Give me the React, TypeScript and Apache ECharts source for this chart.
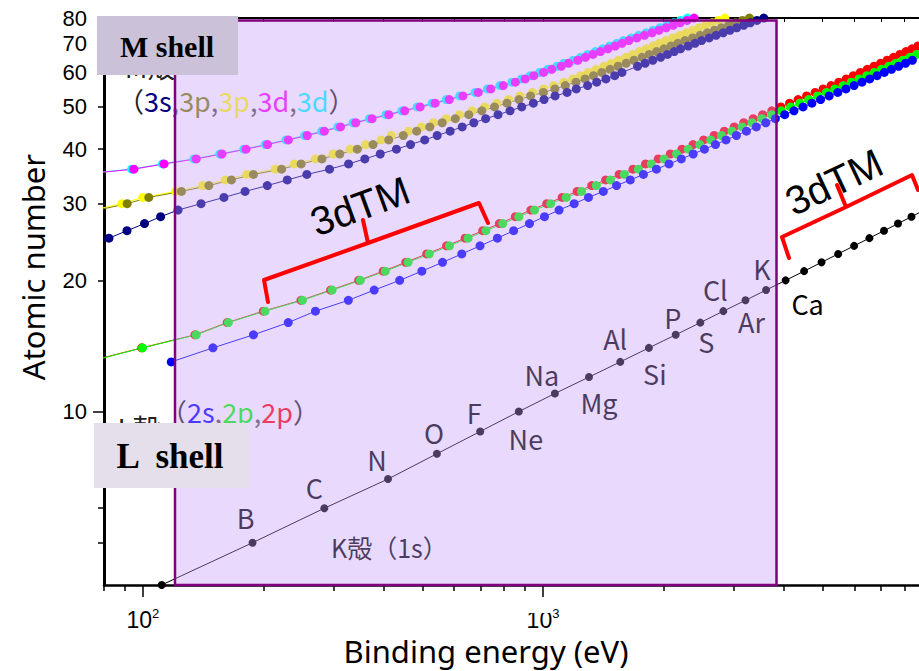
import React, { useEffect, useRef } from "react";
import * as echarts from "echarts";

// ---- Data (binding energies in eV) ----
const kZStart = 4;
const kEnergy = [111.5, 188, 284.2, 409.9, 543.1, 696.7, 870.2, 1070.8, 1303, 1559.6, 1839, 2145.5, 2472, 2822.4, 3205.9, 3608.4, 4038.5, 4492, 4966, 5465, 5989, 6539, 7112, 7709, 8333, 8979];
const kElements = ["", "B", "C", "N", "O", "F", "Ne", "Na", "Mg", "Al", "Si", "P", "S", "Cl", "Ar", "K", "Ca"];
const kLabelOffsets = [[0, 0], [-7, -25], [-10, -21], [-11, -20], [-3, -21], [-6, -19], [7, 27], [-13, -19], [10, 25], [-5, -23], [6, 26], [-3, -17], [6, 19], [-8, -22], [6, 21], [-4, -22], [22, 23]];

const l1ZStart = 13;
const l1Energy = [117.8, 149.7, 189, 230.9, 270, 326.3, 378.6, 438.4, 498.0, 560.9, 626.7, 696.0, 769.1, 844.6, 925.1, 1008.6, 1096.7, 1196.2, 1299.0, 1414.6, 1527.0, 1652.0, 1782, 1921, 2065, 2216, 2373, 2532, 2698, 2866, 3043, 3224, 3412, 3604, 3806, 4018, 4238, 4465, 4698, 4939, 5188, 5453, 5714, 5989, 6266, 6549, 6835, 7126, 7428, 7737, 8052, 8376, 8708];
const l2ZStart = 13;
const l2Energy = [72.95, 99.82, 136, 163.6, 202, 250.6, 297.3, 349.7, 403.6, 460.2, 519.8, 583.8, 649.9, 719.9, 793.2, 870.0, 952.3, 1044.9, 1143.2, 1248.1, 1359.1, 1474.3, 1596, 1730.9, 1864, 2007, 2156, 2307, 2465, 2625, 2793, 2967, 3146, 3330, 3524, 3727, 3938, 4156, 4380, 4612, 4852, 5107, 5359, 5624, 5891, 6164, 6440, 6722, 7013, 7312, 7617, 7930, 8252, 8581];
const l3ZStart = 13;
const l3Energy = [72.55, 99.42, 135, 162.5, 200, 248.4, 294.6, 346.2, 398.7, 453.8, 512.1, 574.1, 638.7, 706.8, 778.1, 852.7, 932.7, 1021.8, 1116.4, 1217.0, 1323.6, 1433.9, 1550, 1678.4, 1804, 1940, 2080, 2223, 2371, 2520, 2677, 2838, 3004, 3173, 3351, 3538, 3730, 3929, 4132, 4341, 4557, 4786, 5012, 5247, 5483, 5723, 5964, 6208, 6459, 6716, 6977, 7243, 7514, 7790, 8071, 8358, 8648];

const m1ZStart = 24;
const m1Energy = [74.1, 82.3, 91.3, 101.0, 110.8, 122.5, 139.8, 159.5, 180.1, 204.7, 229.6, 257, 292.8, 326.7, 358.7, 392.0, 430.3, 466.6, 506.3, 544, 586.1, 628.1, 671.6, 719.0, 772.0, 827.2, 884.7, 946, 1006, 1072, 1148.7, 1211, 1293, 1362, 1436, 1511, 1575, null, 1723, 1800, 1881, 1968, 2047, 2128, 2207, 2307, 2398, 2491, 2601, 2708, 2820, 2932, 3049, 3174, 3296, 3425, 3562];
const m2ZStart = 29;
const m2Energy = [77.3, 91.4, 103.5, 124.9, 146.2, 166.5, 189, 222.2, 248.7, 280.3, 310.6, 343.5, 376.1, 411.6, 447.6, 483.5, 521.3, 559.9, 603.8, 652.6, 703.2, 756.5, 812.7, 870.8, 931, 1002.1, 1071, 1137, 1209, 1274, 1337, 1403, 1471, 1541, 1614, 1688, 1768, 1842, 1923, 2006, 2090, 2173, 2264, 2365, 2469, 2575, 2682, 2792, 2909, 3027, 3148, 3279];
const m3ZStart = 29;
const m3Energy = [75.1, 88.6, 100.0, 120.8, 141.2, 160.7, 182, 214.4, 239.1, 270.0, 298.8, 329.8, 360.6, 394.0, 417.7, 461.4, 496.5, 532.3, 573.0, 618.4, 665.3, 714.6, 766.4, 820.0, 875, 940.6, 1003, 1063, 1128, 1187, 1242, 1297, 1357, 1420, 1481, 1544, 1611, 1676, 1741, 1812, 1885, 1950, 2024, 2108, 2194, 2281, 2367, 2457, 2551, 2645, 2743, 2847];
const m4ZStart = 35;
const m4Energy = [70, 95.0, 113.0, 136.0, 157.7, 181.1, 205.0, 231.1, 257.6, 284.2, 311.9, 340.5, 374.0, 411.9, 451.4, 493.2, 537.5, 583.4, 630.8, 689.0, 740.5, 795.7, 853, 902.4, 948.3, 1003.3, 1052, 1110.9, 1158.6, 1221.9, 1276.9, 1333, 1392, 1453, 1515, 1576, 1639, 1716, 1793, 1872, 1949, 2031, 2116, 2202, 2291, 2385];
const m5ZStart = 35;
const m5Energy = [69, 93.8, 112, 134.2, 155.8, 178.8, 202.3, 227.9, 253.9, 280.0, 307.2, 335.2, 368.3, 405.2, 443.9, 484.9, 528.2, 573.0, 619.3, 676.4, 726.6, 780.5, 836, 883.8, 928.8, 980.4, 1027, 1083.4, 1127.5, 1189.6, 1241.1, 1292.6, 1351, 1409, 1468, 1528, 1589, 1662, 1735, 1809, 1883, 1960, 2040, 2122, 2206, 2295];

// ---- Axis ticks ----
const xMin = 79.99;
const xMax = 8700;
const yMin = 3.999;
const yMax = 80.01;
const xMajorTicks = [100, 1000];
const xMinorTicks = [80, 90, 200, 300, 400, 500, 600, 700, 800, 900, 2000, 3000, 4000, 5000, 6000, 7000, 8000];
const yLabelValues = [10, 20, 30, 40, 50, 60, 70, 80];
const yMajorTicks = [10];
const yMinorTicks = [5, 6, 7, 8, 9, 20, 30, 40, 50, 60, 70, 80];

const toPairs = (zStart: number, energies: (number | null)[]) =>
  energies
    .map((e, i) => (e == null ? null : [e, zStart + i]))
    .filter((p) => p !== null) as number[][];

const lineSeries = (name: string, data: any[], color: string, size = 9) => ({
  type: "line",
  name,
  data,
  symbol: "circle",
  symbolSize: size,
  showSymbol: true,
  showAllSymbol: true,
  clip: true,
  silent: true,
  lineStyle: { color, width: 1 },
  itemStyle: { color, borderWidth: 0 },
  xAxisIndex: 0,
  yAxisIndex: 0,
});

export default function App() {
  const ref = useRef<HTMLDivElement>(null);
  useEffect(() => {
    if (!ref.current) return;
    const chart = echarts.init(ref.current, null, { renderer: "svg" });

    const kData = kEnergy.map((e, i) => {
      const z = kZStart + i;
      const name = kElements[i];
      if (name) {
        return {
          value: [e, z],
          name,
          label: { show: true, position: "inside", offset: kLabelOffsets[i], formatter: name },
        };
      }
      return { value: [e, z] };
    });

    const kSeries: any = lineSeries("K 1s", kData, "#000", 8);
    kSeries.label = {
      show: false,
      fontSize: 27,
      fontFamily: "Noto Sans CJK JP",
      color: "#000",
    };

    const tickStyle = { color: "#000", width: 1.5 };
    const supRich = {
      b: { fontSize: 23, fontFamily: "Liberation Sans", color: "#000", lineHeight: 26 },
      s: { fontSize: 13, fontFamily: "Liberation Sans", color: "#000", verticalAlign: "top", lineHeight: 12 },
    };

    const F = "Noto Sans CJK JP";
    const mRich = {
      p: { fill: "#222", fontSize: 27, fontFamily: F },
      c: { fill: "#555", fontSize: 27, fontFamily: F },
      a: { fill: "#000080", fontSize: 27, fontFamily: F },
      b: { fill: "#808000", fontSize: 27, fontFamily: F },
      y: { fill: "#FFFF00", fontSize: 27, fontFamily: F },
      m: { fill: "#FF00FF", fontSize: 27, fontFamily: F },
      n: { fill: "#00FFFF", fontSize: 27, fontFamily: F },
      u: { fill: "#0000FF", fontSize: 27, fontFamily: F },
      g: { fill: "#00FF00", fontSize: 27, fontFamily: F },
      r: { fill: "#FF0000", fontSize: 27, fontFamily: F },
    };
    const center = { textAlign: "center", textVerticalAlign: "middle", align: "center", verticalAlign: "middle" };
    const leftMid = { textAlign: "left", textVerticalAlign: "middle", align: "left", verticalAlign: "middle" };

    const option: any = {
      animation: false,
      backgroundColor: "#fff",
      grid: { left: 104, right: 0, top: 18, bottom: 86, containLabel: false },
      xAxis: [
        {
          type: "log",
          logBase: 10,
          min: xMin,
          max: xMax,
          position: "bottom",
          axisLine: { show: true, onZero: false, lineStyle: { color: "#000", width: 2.5 } },
          axisTick: { show: true, customValues: xMajorTicks, length: 12, lineStyle: tickStyle },
          axisLabel: {
            show: true,
            customValues: xMajorTicks,
            margin: 22,
            fontSize: 23,
            fontFamily: "Liberation Sans",
            color: "#000",
            formatter: (v: number) => (v < 500 ? "{b|10}{s|2}" : "{b|10}{s|3}"),
            rich: supRich,
          },
          splitLine: { show: false },
          minorTick: { show: false },
        },
        {
          type: "log",
          logBase: 10,
          min: xMin,
          max: xMax,
          position: "bottom",
          axisLine: { show: false },
          axisTick: { show: true, customValues: xMinorTicks, length: 6, lineStyle: tickStyle },
          axisLabel: { show: false },
          splitLine: { show: false },
        },
        {
          type: "log",
          logBase: 10,
          min: xMin,
          max: xMax,
          position: "top",
          axisLine: { show: true, onZero: false, lineStyle: { color: "#000", width: 2 } },
          axisTick: { show: true, inside: true, customValues: [...xMinorTicks, ...xMajorTicks], length: 4, lineStyle: { color: "#000", width: 1 } },
          axisLabel: { show: false },
          splitLine: { show: false },
        },
      ],
      yAxis: [
        {
          type: "log",
          logBase: 10,
          min: yMin,
          max: yMax,
          position: "left",
          axisLine: { show: true, onZero: false, lineStyle: { color: "#000", width: 3 } },
          axisTick: { show: true, customValues: yMajorTicks, length: 11, lineStyle: tickStyle },
          axisLabel: {
            show: true,
            customValues: yLabelValues,
            margin: 17,
            fontSize: 22,
            fontFamily: "Liberation Sans",
            color: "#000",
          },
          splitLine: { show: false },
        },
        {
          type: "log",
          logBase: 10,
          min: yMin,
          max: yMax,
          position: "left",
          axisLine: { show: false },
          axisTick: { show: true, customValues: yMinorTicks, length: 6, lineStyle: tickStyle },
          axisLabel: { show: false },
          splitLine: { show: false },
        },
      ],
      series: [
        lineSeries("L3 2p3/2", toPairs(l3ZStart, l3Energy), "#FF0000"),
        lineSeries("L2 2p1/2", toPairs(l2ZStart, l2Energy), "#00FF00"),
        lineSeries("L1 2s", toPairs(l1ZStart, l1Energy), "#0000FF"),
        lineSeries("M5 3d5/2", toPairs(m5ZStart, m5Energy), "#00FFFF"),
        lineSeries("M4 3d3/2", toPairs(m4ZStart, m4Energy), "#FF00FF"),
        lineSeries("M3 3p3/2", toPairs(m3ZStart, m3Energy), "#FFFF00"),
        lineSeries("M2 3p1/2", toPairs(m2ZStart, m2Energy), "#808000"),
        lineSeries("M1 3s", toPairs(m1ZStart, m1Energy), "#000080"),
        kSeries,
      ],
      graphic: [
        // texts under the shaded overlay
        {
          type: "text", z: 50, x: 150, y: 66,
          style: { text: "M殻", fontSize: 28, fontFamily: F, fill: "#222", ...center },
        },
        {
          type: "text", z: 50, x: 139, y: 428,
          style: { text: "L殻", fontSize: 28, fontFamily: F, fill: "#222", ...center },
        },
        {
          type: "text", z: 50, x: 117, y: 100,
          style: {
            text: "{p|（}{a|3s}{c|,}{b|3p}{c|,}{y|3p}{c|,}{m|3d}{c|,}{n|3d}{p|）}",
            rich: mRich, fontSize: 27, fontFamily: F, ...leftMid,
          },
        },
        {
          type: "text", z: 50, x: 160, y: 411,
          style: {
            text: "{p|（}{u|2s}{c|,}{g|2p}{c|,}{r|2p}{p|）}",
            rich: mRich, fontSize: 27, fontFamily: F, ...leftMid,
          },
        },
        {
          type: "text", z: 50, x: 331, y: 547,
          style: { text: "K殻（1s）", fontSize: 25, fontFamily: F, fill: "#000", ...leftMid },
        },
        // shaded overlay
        {
          type: "rect", z: 100, silent: true,
          shape: { x: 175, y: 20.5, width: 601.5, height: 564.5 },
          style: { fill: "rgba(197,158,250,0.38)", stroke: "#800080", lineWidth: 2.5 },
        },
        // 3dTM brackets
        {
          type: "polyline", z: 110,
          shape: { points: [[268, 302], [264, 280], [368, 243], [363, 220], [368, 243], [479, 203], [488, 223]] },
          style: { stroke: "#FF0000", lineWidth: 4, fill: null, lineJoin: "round", lineCap: "round" },
        },
        {
          type: "text", z: 110, x: 360, y: 206, rotation: 0.35,
          style: { text: "3dTM", fontSize: 40, fontFamily: "Liberation Sans", fill: "#000", ...center },
        },
        {
          type: "polyline", z: 110,
          shape: { points: [[789, 258], [782, 237], [846, 207], [837, 185], [846, 207], [912, 175], [918, 190]] },
          style: { stroke: "#FF0000", lineWidth: 4, fill: null, lineJoin: "round", lineCap: "round" },
        },
        {
          type: "text", z: 110, x: 834, y: 182, rotation: 0.44,
          style: { text: "3dTM", fontSize: 40, fontFamily: "Liberation Sans", fill: "#000", ...center },
        },
        // shell boxes
        {
          type: "rect", z: 120, silent: true,
          shape: { x: 97, y: 16, width: 141, height: 59 },
          style: { fill: "#CBC1D9" },
        },
        {
          type: "text", z: 121, x: 167, y: 46,
          style: { text: "M shell", fontSize: 30, fontWeight: "bold", fontFamily: "Liberation Serif", fill: "#000", ...center },
        },
        {
          type: "rect", z: 120, silent: true,
          shape: { x: 94, y: 423, width: 155, height: 65 },
          style: { fill: "#E4DFEA" },
        },
        {
          type: "text", z: 121, x: 170, y: 456,
          style: { text: "L  shell", fontSize: 35, fontWeight: "bold", fontFamily: "Liberation Serif", fill: "#000", ...center },
        },
        // white patch partly hiding the 10^3 label
        {
          type: "rect", z: 130, silent: true,
          shape: { x: 520, y: 599, width: 33, height: 14 },
          style: { fill: "#fff" },
        },
        // axis titles
        {
          type: "text", z: 130, x: 486, y: 651,
          style: { text: "Binding energy (eV)", fontSize: 31, fontFamily: "Noto Sans", fill: "#000", ...center },
        },
        {
          type: "text", z: 130, x: 33, y: 267, rotation: Math.PI / 2,
          style: { text: "Atomic number", fontSize: 31, fontFamily: "Noto Sans", fill: "#000", ...center },
        },
      ],
    };

    chart.setOption(option);
    return () => chart.dispose();
  }, []);

  return (
    <div
      ref={ref}
      style={{ position: "absolute", left: 0, top: 0, width: 919, height: 671, background: "#fff" }}
    />
  );
}
